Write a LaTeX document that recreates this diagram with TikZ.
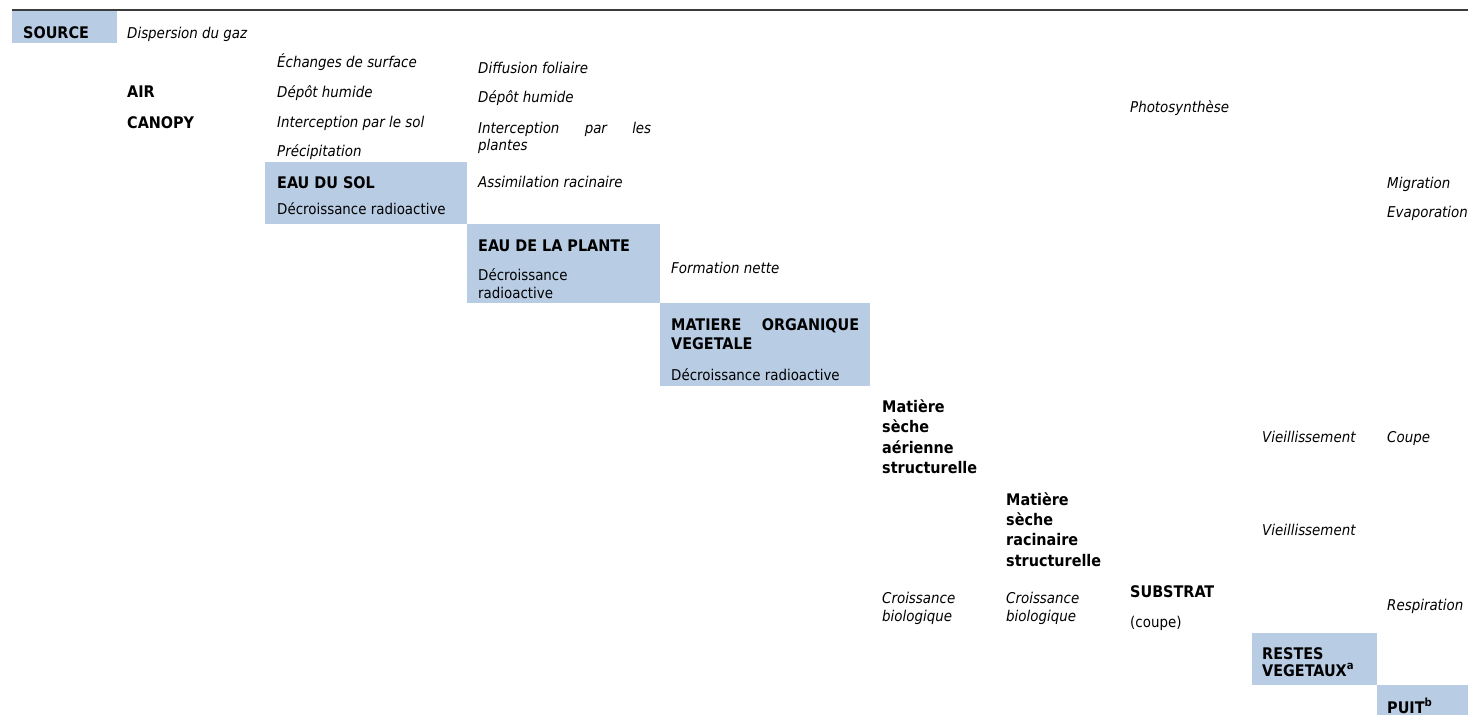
\documentclass[tikz,border=0pt]{standalone}
\usepackage{fontspec}
\setmainfont{DejaVu Sans Condensed}
\definecolor{cellblue}{HTML}{B8CCE4}
\definecolor{rulegray}{HTML}{3C3C3C}
\tikzstyle{cell} = [fill=cellblue, draw=none, rectangle, inner sep=0pt, anchor=north west]
\tikzstyle{compart} = [anchor=base west, inner sep=0pt, align=left,
    font=\fontsize{16}{18}\selectfont\bfseries]
\tikzstyle{process} = [anchor=base west, inner sep=0pt, align=left,
    font=\fontsize{14.9}{18}\selectfont\itshape]
\tikzstyle{decay} = [anchor=base west, inner sep=0pt, align=left,
    font=\fontsize{14.9}{18}\selectfont]

\begin{document}
\begin{tikzpicture}[x=1pt, y=-1pt]
    \clip (0,0) rectangle (1468,715);
    \draw [rulegray, line width=1.6pt] (12,10) -- (1468,10);

    \node [cell, minimum width=105pt, minimum height=32pt] (source) at (12,11) {};
    \node [cell, minimum width=202pt, minimum height=62pt] (sol) at (265,162) {};
    \node [cell, minimum width=193pt, minimum height=79pt] (plante) at (467,224) {};
    \node [cell, minimum width=210pt, minimum height=83pt] (matiere) at (660,303) {};
    \node [cell, minimum width=125pt, minimum height=52pt] (restes) at (1252,633) {};
    \node [cell, minimum width=100pt, minimum height=40pt] (puit) at (1377,685) {};

    \node [compart] (sourcetxt) at (23,38) {SOURCE};
    \node [process] (dispersion) at (127,38) {Dispersion du gaz};
    \node [compart] (air) at (127,97) {AIR};
    \node [compart] (canopy) at (127,128) {CANOPY};

    \node [process] (echanges) at (277,67) {Échanges de surface};
    \node [process] (depotsol) at (277,97) {Dépôt humide};
    \node [process] (interceptsol) at (277,127) {Interception par le sol};
    \node [process] (precip) at (277,156) {Précipitation};
    \node [compart] (soltxt) at (277,188) {EAU DU SOL};
    \node [decay] (soldecay) at (277,214) {Décroissance radioactive};

    \node [process] (diffusion) at (478,73) {Diffusion foliaire};
    \node [process] (depotplante) at (478,102) {Dépôt humide};
    \node [process, font=\fontsize{14.9}{17.5}\selectfont\itshape] (interceptplante) at (478,150.5)
        {\makebox[173pt][s]{Interception par les}\\plantes};
    \node [process] (assim) at (478,187) {Assimilation racinaire};
    \node [compart] (plantetxt) at (478,251) {EAU DE LA PLANTE};
    \node [decay] (plantedecay) at (478,298) {Décroissance\\radioactive};

    \node [process] (formation) at (671,273) {Formation nette};
    \node [compart, font=\fontsize{16}{19.3}\selectfont\bfseries] (matieretxt) at (671,349.3)
        {\makebox[188pt][s]{MATIERE ORGANIQUE}\\VEGETALE};
    \node [decay] (matieredecay) at (671,380) {Décroissance radioactive};

    \node [compart, font=\fontsize{16}{20.3}\selectfont\bfseries] (aerienne) at (882,473.3)
        {Matière\\sèche\\aérienne\\structurelle};
    \node [process] (croissaer) at (882,621) {Croissance\\biologique};

    \node [compart, font=\fontsize{16}{20.3}\selectfont\bfseries] (racinaire) at (1006,566)
        {Matière\\sèche\\racinaire\\structurelle};
    \node [process] (croissrac) at (1006,621) {Croissance\\biologique};

    \node [process] (photo) at (1130,112) {Photosynthèse};
    \node [compart] (substrat) at (1130,597) {SUBSTRAT};
    \node [decay] (coupesub) at (1130,627) {(coupe)};

    \node [process] (vieilaer) at (1262,442) {Vieillissement};
    \node [process] (vieilrac) at (1262,535) {Vieillissement};
    \node [compart, font=\fontsize{16}{17}\selectfont\bfseries] (restestxt) at (1262,676)
        {RESTES\\VEGETAUX\textsuperscript{a}};

    \node [process] (migration) at (1387,188) {Migration};
    \node [process] (evaporation) at (1387,217) {Evaporation};
    \node [process] (coupe) at (1387,442) {Coupe};
    \node [process] (respiration) at (1387,610) {Respiration};
    \node [compart] (puittxt) at (1387,713) {PUIT\textsuperscript{b}};
\end{tikzpicture}
\end{document}
